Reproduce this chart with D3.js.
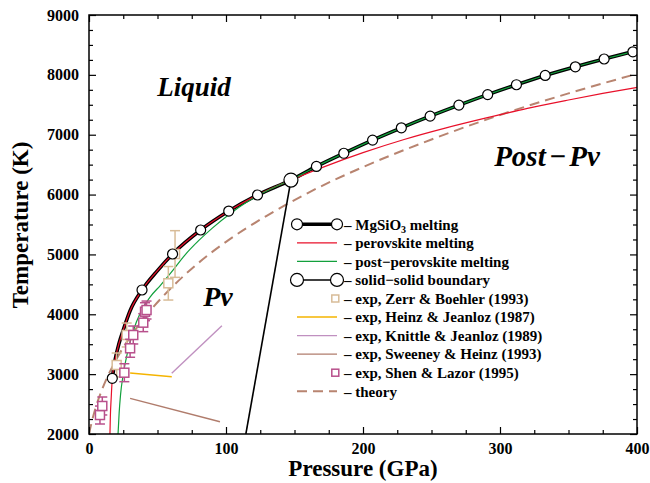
<!DOCTYPE html>
<html><head><meta charset="utf-8">
<script src="https://cdn.jsdelivr.net/npm/d3@7"></script>
<style>body{margin:0;background:#fff}svg{display:block}text{font-family:"Liberation Serif","Times New Roman",serif;font-weight:bold}</style>
</head><body>
<svg id="c" width="650" height="483"></svg>
<script>
// ---- data ----
const xTicks = [0,100,200,300,400];
const yTicks = [2000,3000,4000,5000,6000,7000,8000,9000];
const xMinor = [25,50,75,125,150,175,225,250,275,325,350,375];
const yMinor = [2250,2500,2750,3250,3500,3750,4250,4500,4750,5250,5500,5750,6250,6500,6750,7250,7500,7750,8250,8500,8750];

// MgSiO3 melting curve
const meltP = [17,19,22,25,30,38.7,50,61,81.5,102,123,147.4,166,186,207,228,249,270,291,312,333,355,376,397,400];
const meltT = [2930,3230,3520,3737,4060,4406,4730,5007,5408,5725,5993,6243,6470,6690,6910,7115,7310,7495,7670,7835,7990,8135,8265,8385,8400];
const markP = [17,38.7,61,81.5,102,123,166,186,207,228,249,270,291,312,333,355,376,397];
const markT = [2930,4406,5007,5408,5725,5993,6470,6690,6910,7115,7310,7495,7670,7835,7990,8135,8265,8385];
// perovskite melting
const pvP = [15.3,15.6,16.2,17,19,22,25,30,38.7,50,61,81.5,102,123,147.4,170,200,230,260,290,320,350,375,400];
const pvT = [2000,2300,2600,2930,3230,3520,3737,4060,4406,4730,5007,5408,5725,5993,6243,6450,6700,6920,7110,7280,7440,7580,7690,7790];
// post-perovskite melting
const ppvP = [21.2,22,23,25,28,32,38,45,52,60,70,80,90,103,115,127,137,147.4,166,186,207,228,249,270,291,312,333,355,376,397,400];
const ppvT = [2000,2350,2650,3000,3350,3700,4050,4300,4480,4700,4990,5230,5440,5680,5870,6030,6140,6243,6470,6690,6910,7115,7310,7495,7670,7835,7990,8135,8265,8385,8400];
// solid-solid boundary
const ssP = [114.5,147.4];
const ssT = [2000,6243];
// theory
const thP = [0,2,5,10,20,30,40,60,80,100,130,160,200,250,300,350,400];
const thT = [2000,2200,2450,2770,3250,3620,3930,4440,4860,5210,5650,6030,6460,6920,7330,7690,8018];
// experiments (lines)
const heinzP = [30,60.4], heinzT = [3019,2957];
const knittleP = [60.4,97], knittleT = [3014,3810];
const sweeneyP = [30,95.6], sweeneyT = [2596,2205];
// experiments (points with error bars)
const zerrP = [20.2,27.5,57.9,62.8];
const zerrT = [3153,3654,4518,5007];
const zerrE = [200,200,280,390];
const shenP = [8,9.7,25.8,30,32.3,39.6,40.9,42];
const shenT = [2317,2468,3024,3432,3654,3860,4043,4071];
const shenE = [150,150,150,150,150,150,150,150];

const legendNames = ["MgSiO3 melting","perovskite melting","post\u2212perovskite melting","solid\u2212solid boundary","exp, Zerr & Boehler (1993)","exp, Heinz & Jeanloz (1987)","exp, Knittle & Jeanloz (1989)","exp, Sweeney & Heinz (1993)","exp, Shen & Lazor (1995)","theory"];
const legendKinds = ["thickcircle","line","line","thincircle","square","line","line","line","square","dash"];
const legendColors = ["#000","#e8102a","#12a03c","#000","#d8bc98","#f5b400","#c090c0","#b07c6c","#b8508c","#b88470"];

// ---- drawing ----
const svg = d3.select("#c");
const x = d3.scaleLinear().domain([0,400]).range([89,637]);
const y = d3.scaleLinear().domain([2000,9000]).range([434,15]);
const line = d3.line().x(d=>x(d[0])).y(d=>y(d[1])).curve(d3.curveMonotoneX);
const zip = (a,b)=>a.map((v,i)=>[v,b[i]]);

svg.append("clipPath").attr("id","clip").append("rect").attr("x",89).attr("y",15).attr("width",548).attr("height",419);
const plot = svg.append("g").attr("clip-path","url(#clip)");

plot.append("path").attr("d",line(zip(thP,thT))).attr("fill","none").attr("stroke",legendColors[9]).attr("stroke-width",2).attr("stroke-dasharray","10,6");
plot.append("path").attr("d",d3.line().x(d=>x(d[0])).y(d=>y(d[1]))(zip(ssP,ssT))).attr("fill","none").attr("stroke","#000").attr("stroke-width",1.6);
[[heinzP,heinzT,5],[knittleP,knittleT,6],[sweeneyP,sweeneyT,7]].forEach(([p,t,i])=>{
  plot.append("path").attr("d",d3.line().x(d=>x(d[0])).y(d=>y(d[1]))(zip(p,t))).attr("fill","none").attr("stroke",legendColors[i]).attr("stroke-width",1.4);
});

plot.append("path").attr("d",line(zip(meltP,meltT))).attr("fill","none").attr("stroke","#000").attr("stroke-width",3.6);
plot.append("path").attr("d",line(zip(pvP,pvT))).attr("fill","none").attr("stroke",legendColors[1]).attr("stroke-width",1.2);
plot.append("path").attr("d",line(zip(ppvP,ppvT))).attr("fill","none").attr("stroke",legendColors[2]).attr("stroke-width",1.2);

function errPoints(P,T,E,color){
  const g = plot.append("g").attr("stroke",color).attr("stroke-width",1.5);
  P.forEach((p,i)=>{
    const cx=x(p), t=T[i], e=E[i];
    g.append("line").attr("x1",cx).attr("x2",cx).attr("y1",y(t-e)).attr("y2",y(t+e));
    g.append("line").attr("x1",cx-5).attr("x2",cx+5).attr("y1",y(t-e)).attr("y2",y(t-e));
    g.append("line").attr("x1",cx-5).attr("x2",cx+5).attr("y1",y(t+e)).attr("y2",y(t+e));
  });
  P.forEach((p,i)=>{
    g.append("rect").attr("x",x(p)-4.5).attr("y",y(T[i])-4.5).attr("width",9).attr("height",9).attr("fill","#fff");
  });
}
errPoints(zerrP,zerrT,zerrE,legendColors[4]);
errPoints(shenP,shenT,shenE,legendColors[8]);

plot.selectAll("circle.m").data(zip(markP,markT)).join("circle").attr("cx",d=>x(d[0])).attr("cy",d=>y(d[1])).attr("r",5)
  .attr("fill","#fff").attr("stroke","#000").attr("stroke-width",1.2);
plot.append("circle").attr("cx",x(ssP[1])).attr("cy",y(ssT[1])).attr("r",7).attr("fill","#fff").attr("stroke","#000").attr("stroke-width",1.2);

// axes
function ax(gen, tr, vals, size, labels){
  const g = svg.append("g").attr("transform",tr).call(gen.tickValues(vals).tickSize(size).tickFormat(labels?d3.format("d"):()=>""));
  g.select(".domain").remove();
  g.selectAll("line").attr("stroke","#000").attr("stroke-width",1.2);
  return g;
}
ax(d3.axisBottom(x).tickPadding(9),"translate(0,434)",xTicks,-7,true);
ax(d3.axisBottom(x),"translate(0,434)",xMinor,-4,false);
ax(d3.axisTop(x),"translate(0,15)",xTicks,-7,false);
ax(d3.axisTop(x),"translate(0,15)",xMinor,-4,false);
ax(d3.axisLeft(y).tickPadding(10),"translate(89,0)",yTicks,-7,true);
ax(d3.axisLeft(y),"translate(89,0)",yMinor,-4,false);
ax(d3.axisRight(y),"translate(637,0)",yTicks,-7,false);
ax(d3.axisRight(y),"translate(637,0)",yMinor,-4,false);
svg.selectAll(".tick text").attr("font-family",'"Liberation Serif",serif').attr("font-weight","bold").attr("font-size",16).attr("fill","#000");

svg.append("rect").attr("x",89).attr("y",15).attr("width",548).attr("height",419).attr("fill","none").attr("stroke","#000").attr("stroke-width",1.5);

svg.append("text").attr("x",363).attr("y",476).attr("text-anchor","middle").attr("font-size",23).text("Pressure (GPa)");
svg.append("text").attr("transform","translate(28,225) rotate(-90)").attr("text-anchor","middle").attr("font-size",23).text("Temperature (K)");

const lab = (t,cx,by,fs)=>svg.append("text").attr("x",cx).attr("y",by).attr("text-anchor","middle").attr("font-size",fs||27).attr("font-style","italic").text(t);
lab("Liquid",194,96); lab("Pv",218,306,28);
const pp = svg.append("text").attr("x",547).attr("y",166).attr("text-anchor","middle").attr("font-size",29).attr("font-style","italic");
pp.append("tspan").text("Post");
pp.append("tspan").attr("dx",3).text("\u2212");
pp.append("tspan").attr("dx",3).text("Pv");

// legend
const lg = svg.append("g");
legendNames.forEach((n,i)=>{
  const yy = 224.3 + i*18.55, c = legendColors[i], k = legendKinds[i];
  if(k==="line"||k==="dash"||k==="thickcircle"||k==="thincircle"){
    lg.append("line").attr("x1",297).attr("x2",337).attr("y1",yy).attr("y2",yy).attr("stroke",c)
      .attr("stroke-width",k==="thickcircle"?3.6:(k==="dash"?2:(k==="thincircle"?1.6:1.4)))
      .attr("stroke-dasharray",k==="dash"?"10,6":null);
  }
  if(k==="thickcircle"||k==="thincircle"){
    [297,337].forEach(cx=>lg.append("circle").attr("cx",cx).attr("cy",yy).attr("r",k==="thickcircle"?5.5:6.5).attr("fill","#fff").attr("stroke","#000").attr("stroke-width",1.2));
  }
  if(k==="square"){
    lg.append("rect").attr("x",335.3-3.5).attr("y",yy-3.5).attr("width",7).attr("height",7).attr("fill","#fff").attr("stroke",c).attr("stroke-width",1.5);
  }
  const t = lg.append("text").attr("x",344).attr("y",yy).attr("dy","0.35em").attr("font-size",15);
  if(n==="MgSiO3 melting"){
    t.append("tspan").text("\u2013 MgSiO");
    t.append("tspan").attr("font-size",10).attr("dy",3).text("3");
    t.append("tspan").attr("dy",-3).text(" melting");
  } else t.text("\u2013 "+n);
});
</script>
</body></html>
